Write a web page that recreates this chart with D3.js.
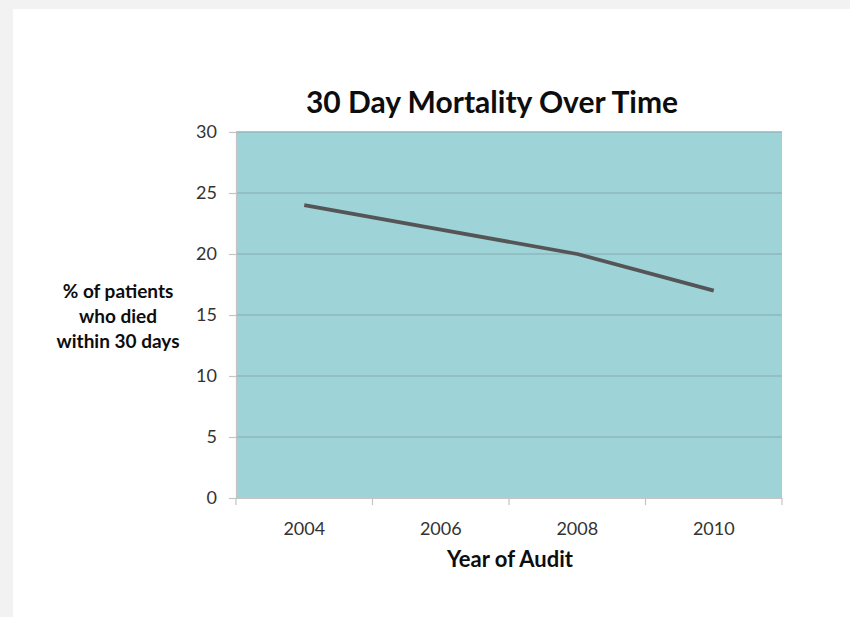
<!DOCTYPE html>
<html>
<head>
<meta charset="utf-8">
<script src="https://cdn.jsdelivr.net/npm/d3@7/dist/d3.min.js"></script>
<style>
  html, body { margin: 0; padding: 0; background: #f2f2f2; }
  svg { display: block; }
  text { font-family: Lato, "Open Sans", "Noto Sans", sans-serif; }
</style>
</head>
<body>
<svg id="chart" width="850" height="617"></svg>
<script>
// Audit results: percentage of patients who died within 30 days
const years = ["2004", "2006", "2008", "2010"];
const mortality = [24, 22, 20, 17];
const yTicks = [0, 5, 10, 15, 20, 25, 30];
const chartTitle = "30 Day Mortality Over Time";
const xTitle = "Year of Audit";
const yTitleLines = ["% of patients", "who died", "within 30 days"];

const svg = d3.select("#chart");
const W = 850, H = 617;

// white card on the light grey page
svg.append("rect").attr("x", 13).attr("y", 9).attr("width", W - 13).attr("height", H - 9).attr("fill", "#ffffff");

const plot = { left: 236, right: 782, top: 132, bottom: 498 };

const x = d3.scaleBand().domain(years).range([plot.left, plot.right]).paddingInner(0).paddingOuter(0);
const y = d3.scaleLinear().domain([0, 30]).range([plot.bottom, plot.top]);

// plot area fill
svg.append("rect")
  .attr("x", plot.left).attr("y", plot.top)
  .attr("width", plot.right - plot.left).attr("height", plot.bottom - plot.top)
  .attr("fill", "#9ed3d7");

// horizontal gridlines
svg.append("g").selectAll("line")
  .data(yTicks.filter(t => t > 0))
  .join("line")
  .attr("x1", plot.left).attr("x2", plot.right)
  .attr("y1", d => y(d)).attr("y2", d => y(d))
  .attr("stroke", "#8cb9bc").attr("stroke-width", 1.3);

// y axis
const yAxis = svg.append("g")
  .attr("transform", `translate(${plot.left},0)`)
  .call(d3.axisLeft(y).tickValues(yTicks).tickSize(7).tickPadding(12));
yAxis.select(".domain").attr("stroke", "#c4c4c4").attr("stroke-width", 1.2);
yAxis.selectAll(".tick line").attr("stroke", "#c4c4c4").attr("stroke-width", 1.2);
yAxis.selectAll(".tick text")
  .attr("fill", "#333").style("font-size", "18px").style("font-family", "Lato, sans-serif");

// x axis with tick marks on band boundaries
const xAxis = svg.append("g")
  .attr("transform", `translate(0,${plot.bottom})`)
  .call(d3.axisBottom(x).tickSize(0).tickPadding(24));
xAxis.select(".domain").attr("stroke", "#c4c4c4").attr("stroke-width", 1.2);
xAxis.selectAll(".tick text")
  .attr("fill", "#333").style("font-size", "18px").style("font-family", "Lato, sans-serif");
const bounds = years.map(d => x(d)).concat([x(years[years.length - 1]) + x.bandwidth()]);
xAxis.append("g").selectAll("line")
  .data(bounds)
  .join("line")
  .attr("x1", d => d).attr("x2", d => d)
  .attr("y1", 0).attr("y2", 7)
  .attr("stroke", "#c4c4c4").attr("stroke-width", 1.2);

// mortality line
const line = d3.line()
  .x((d, i) => x(years[i]) + x.bandwidth() / 2)
  .y(d => y(d));
svg.append("path")
  .datum(mortality)
  .attr("d", line)
  .attr("fill", "none")
  .attr("stroke", "#555558")
  .attr("stroke-width", 3.8)
  .attr("stroke-linejoin", "round");

// chart title
svg.append("text")
  .attr("x", 492).attr("y", 113)
  .attr("text-anchor", "middle")
  .attr("fill", "#0d0d0d")
  .style("font-size", "30px").style("font-weight", "bold")
  .text(chartTitle);

// x axis title
svg.append("text")
  .attr("x", 510).attr("y", 567)
  .attr("text-anchor", "middle")
  .attr("fill", "#0d0d0d")
  .style("font-size", "22px").style("font-weight", "bold")
  .text(xTitle);

// y axis title, three centred lines
svg.append("text")
  .attr("text-anchor", "middle")
  .attr("fill", "#0d0d0d")
  .style("font-size", "19px").style("font-weight", "bold")
  .selectAll("tspan")
  .data(yTitleLines)
  .join("tspan")
  .attr("x", 118)
  .attr("y", (d, i) => 298 + i * 25)
  .text(d => d);
</script>
</body>
</html>
